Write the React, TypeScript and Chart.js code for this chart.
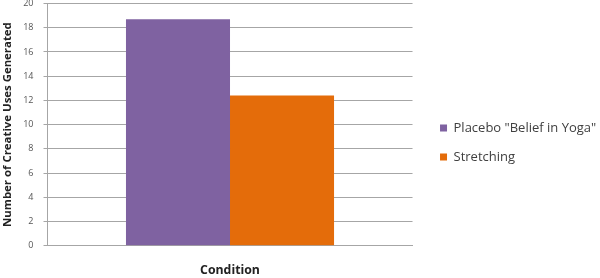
import React, { useEffect, useRef } from "react";
import { Chart, registerables } from "chart.js";

Chart.register(...registerables);

const categories = [""];
const seriesNames = ['Placebo "Belief in Yoga"', "Stretching"];
const placeboValues = [18.7];
const stretchingValues = [12.4];
const yTicks = { min: 0, max: 20, step: 2 };
const yTitle = "Number of Creative Uses Generated";
const xTitle = "Condition";

const FONT = "'Open Sans', 'DejaVu Sans', sans-serif";

const legendShift = {
  id: "legendShift",
  afterLayout(chart: any) {
    const lg = chart.legend;
    if (lg) {
      lg.left += 11.5;
      lg.right += 11.5;
      lg.top += 3.5;
      lg.bottom += 3.5;
    }
  },
};

export default function App() {
  const ref = useRef<HTMLCanvasElement | null>(null);
  useEffect(() => {
    if (!ref.current) return;
    const chart = new Chart(ref.current, {
      type: "bar",
      data: {
        labels: categories,
        datasets: [
          { label: seriesNames[0], data: placeboValues, backgroundColor: "#7F62A1", borderWidth: 0 },
          { label: seriesNames[1], data: stretchingValues, backgroundColor: "#E46C0A", borderWidth: 0 },
        ],
      },
      plugins: [legendShift],
      options: {
        animation: false,
        responsive: false,
        maintainAspectRatio: false,
        layout: { padding: { right: 5.3 } },
        plugins: {
          tooltip: { enabled: false },
          legend: {
            position: "right",
            align: "center",
            maxWidth: 200,
            labels: { boxWidth: 7, boxHeight: 7, padding: 16, color: "#404040", font: { family: FONT, size: 13 } },
          },
        },
        datasets: { bar: { categoryPercentage: 0.57, barPercentage: 1 } },
        scales: {
          x: {
            grid: { display: false, drawTicks: false, tickLength: 0 },
            border: { display: true, color: "#A6A6A6", width: 1 },
            ticks: { display: false },
            title: {
              display: true,
              text: xTitle,
              color: "#222",
              font: { family: FONT, size: 12.3, weight: "bold" },
              padding: { top: 17.5, bottom: 0 },
            },
          },
          y: {
            min: yTicks.min,
            max: yTicks.max,
            grid: { color: "#A6A6A6", lineWidth: 1, tickLength: 4 },
            border: { display: true, color: "#A6A6A6", width: 1 },
            ticks: { stepSize: yTicks.step, padding: 10, color: "#555", font: { family: FONT, size: 9 } },
            title: {
              display: true,
              text: yTitle,
              color: "#222",
              font: { family: FONT, size: 11.4, weight: "bold" },
              padding: { top: 1, bottom: 4 },
            },
            afterFit(scale: any) {
              scale.width = 47.5;
              scale.paddingTop = 3.5;
              scale.paddingBottom = 0;
            },
          },
        },
      },
    });
    return () => chart.destroy();
  }, []);
  return (
    <div style={{ width: 600, height: 278, position: "absolute", left: 0, top: 0, background: "#fff" }}>
      <canvas ref={ref} width={600} height={278} style={{ width: 600, height: 278 }} />
    </div>
  );
}
